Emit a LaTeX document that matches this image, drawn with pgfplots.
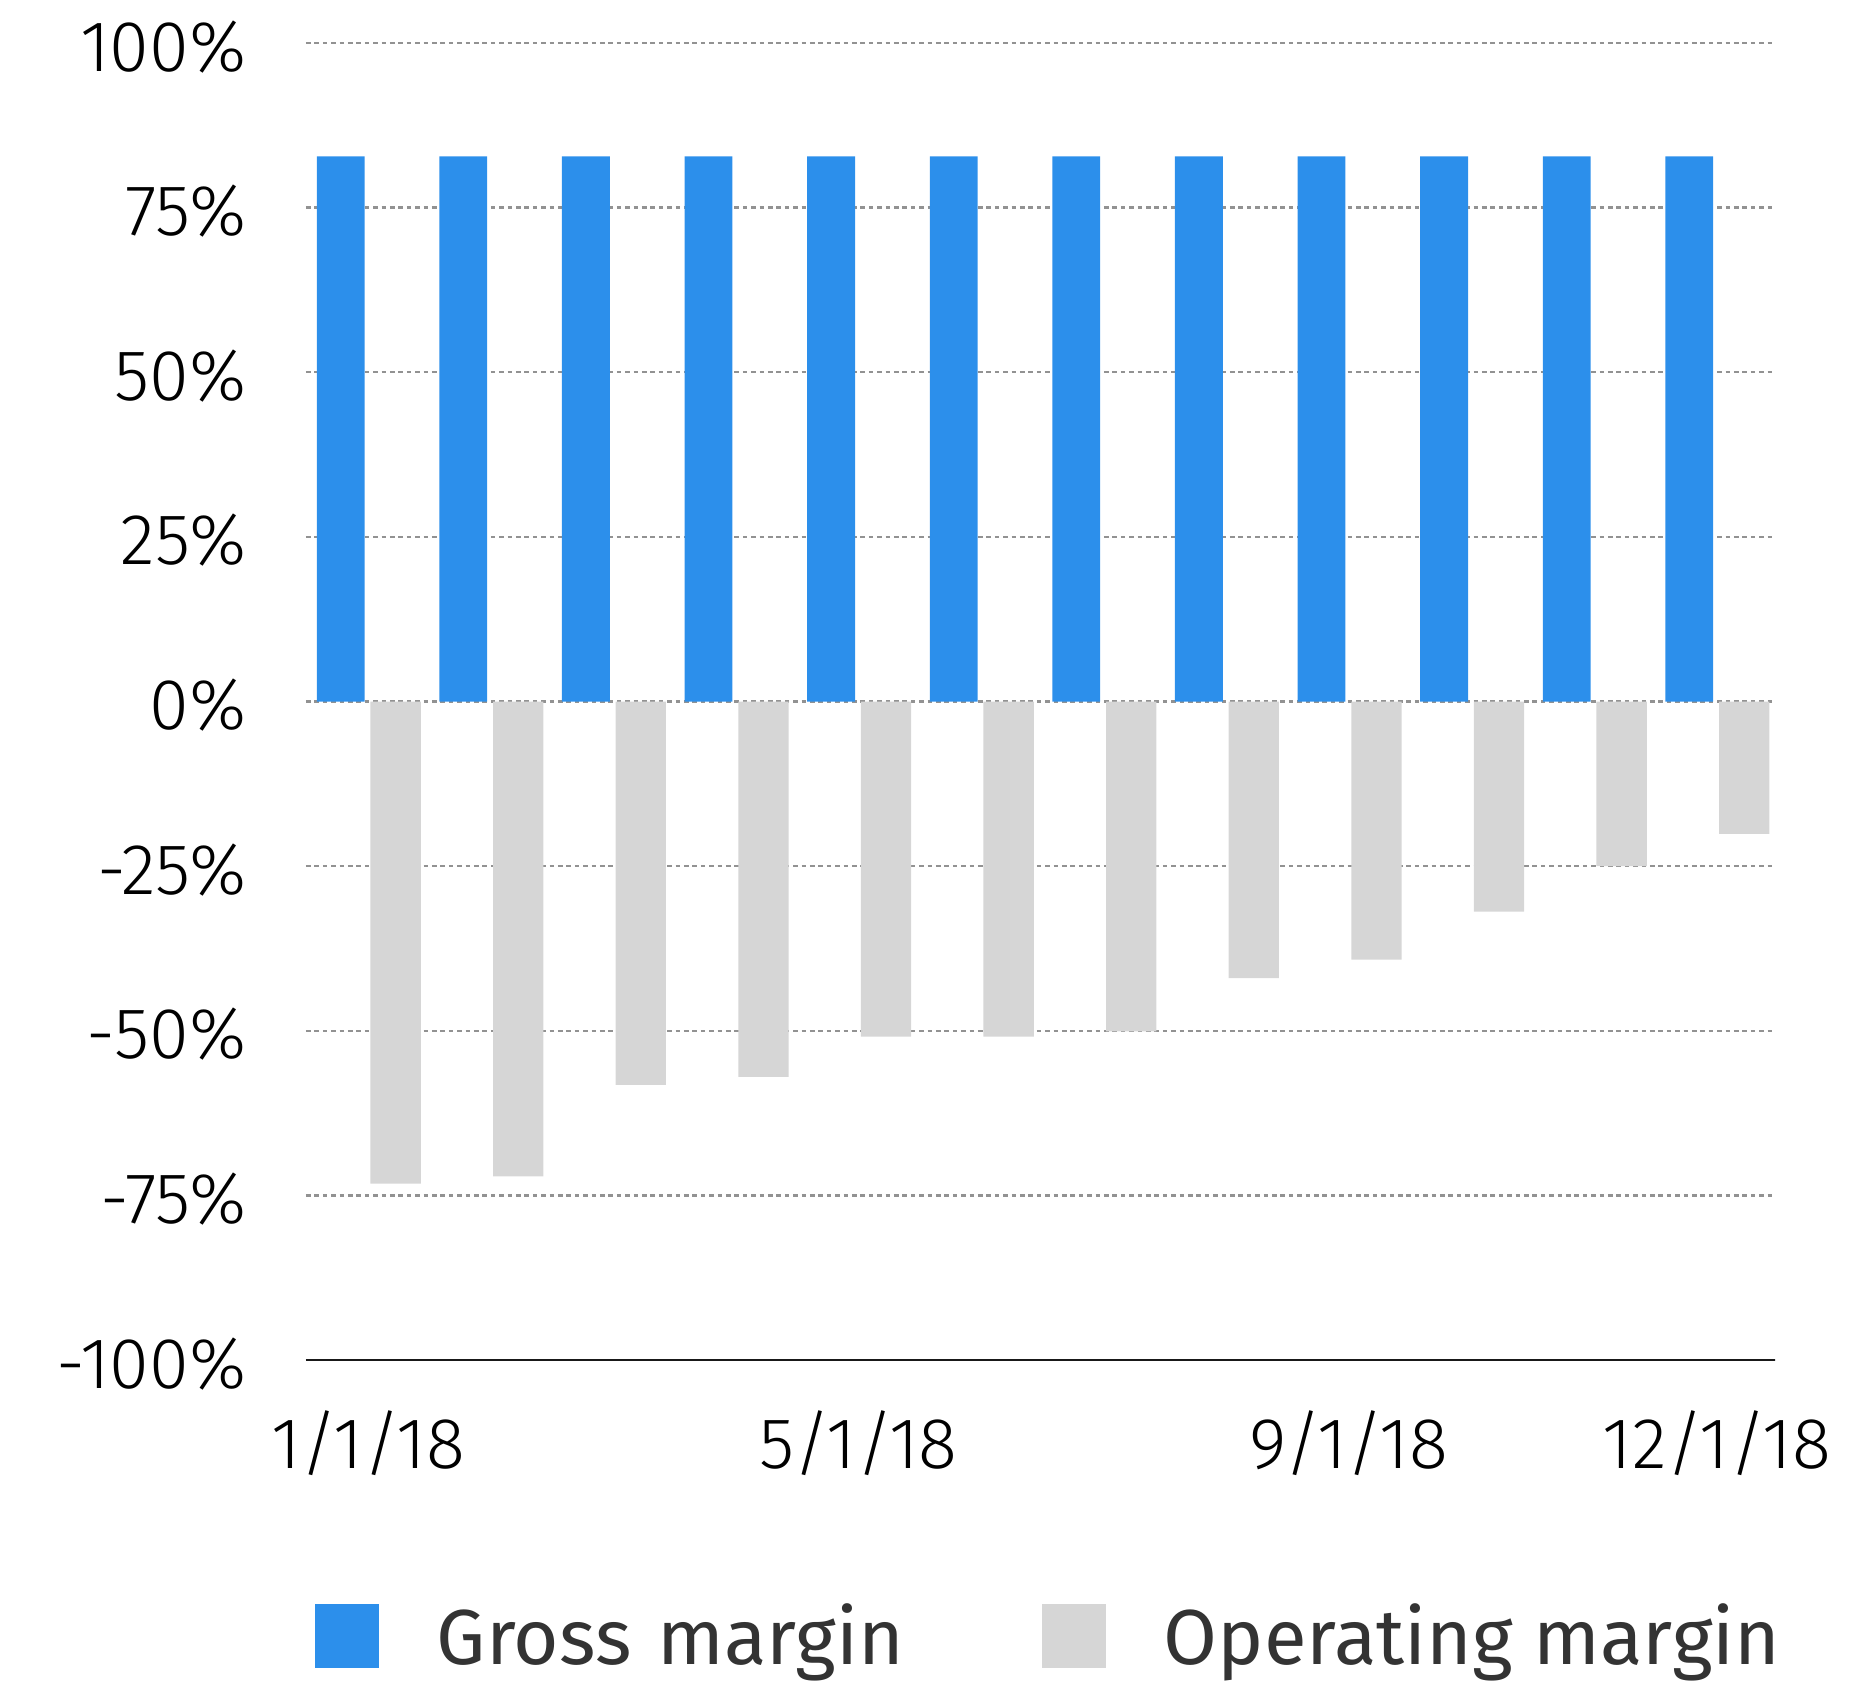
\documentclass[border=0pt]{standalone}
\usepackage{fontspec}
\usepackage{pgfplots}
\pgfplotsset{compat=1.18}
\setmainfont{Fira Sans}
\newfontfamily\lightfont{Fira Sans Light}
\definecolor{gmblue}{HTML}{2C8FEB}
\definecolor{omgray}{HTML}{D6D6D6}
\definecolor{gridgray}{HTML}{929292}
\definecolor{legtext}{HTML}{333333}
\pgfplotsset{sqlegend/.style={legend image code/.code={\fill[##1] (0pt,-8pt) rectangle (16pt,8pt); \path (30.5pt,0pt);}}}
\begin{document}
\begin{tikzpicture}
\useasboundingbox (-76.5pt,-81pt) rectangle (392pt,340pt);
\begin{axis}[
  at={(0pt,0pt)}, anchor=south west,
  scale only axis, width=367.25pt, height=329.25pt,
  xmin=-0.507, xmax=11.475, ymin=-100, ymax=100,
  enlargelimits=false,
  axis line style={draw=none},
  major tick length=0pt,
  xtick={0,4,8,11}, xticklabels={1/1/18,5/1/18,9/1/18,12/1/18},
  ytick={-100,-75,-50,-25,0,25,50,75,100},
  yticklabels={-100\%,-75\%,-50\%,-25\%,0\%,25\%,50\%,75\%,100\%},
  ymajorgrids, grid style={gridgray, line width=0.6pt, dash pattern=on 1.15pt off 0.95pt},
  tick label style={font=\lightfont\fontsize{18}{20}\selectfont, text=black, inner sep=0pt, text height=12.4pt, text depth=0pt},
  xticklabel style={anchor=north, yshift=-14.5pt},
  yticklabel style={anchor=east, xshift=-14.75pt, yshift=-0.8pt},
  legend columns=2,
  legend style={at={(0,0)}, anchor=north west, xshift=2.25pt, yshift=-61pt,
    draw=none, fill=none, inner sep=0pt, outer sep=0pt,
    font=\fontsize{19.5}{22}\selectfont, text=legtext,
    nodes={inner sep=0pt, text height=14.2pt, text depth=0pt}},
]
\addplot[ybar, bar width=0.39, bar shift=-0.224, fill=gmblue, draw=none, sqlegend]
  coordinates {(0,82.8)(1,82.8)(2,82.8)(3,82.8)(4,82.8)(5,82.8)(6,82.8)(7,82.8)(8,82.8)(9,82.8)(10,82.8)(11,82.8)};
\addlegendentry[text width=151.25pt, align=left]{Gross margin}
\addplot[ybar, bar width=0.41, bar shift=0.224, fill=omgray, draw=none, sqlegend]
  coordinates {(0,-73.2)(1,-72.1)(2,-58.2)(3,-57.0)(4,-50.9)(5,-50.9)(6,-50.1)(7,-42.0)(8,-39.2)(9,-31.9)(10,-25.0)(11,-20.1)};
\addlegendentry{Operating margin}
\draw[black!90, line width=0.7pt] (rel axis cs:0,0) -- (rel axis cs:1.003,0);
\end{axis}
\end{tikzpicture}
\end{document}
